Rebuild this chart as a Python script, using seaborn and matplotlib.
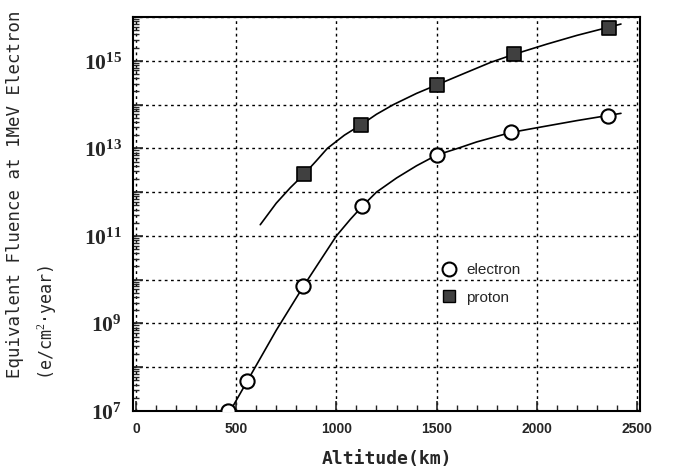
import numpy as np
import pandas as pd
import seaborn as sns
import matplotlib.pyplot as plt
from matplotlib.lines import Line2D
from matplotlib.ticker import LogLocator, FixedLocator, MultipleLocator, NullFormatter, FuncFormatter

# measured points
electron_alt = [460, 555, 835, 1130, 1500, 1870, 2355]
electron_flu = [1.0e7, 4.8e7, 7.0e9, 4.8e11, 7.0e12, 2.3e13, 5.6e13]
proton_alt = [840, 1125, 1500, 1885, 2360]
proton_flu = [2.6e12, 3.5e13, 2.8e14, 1.4e15, 5.6e15]

# fitted curves
e_curve_alt = [470, 555, 700, 835, 900, 1000, 1070, 1130, 1200, 1300, 1400, 1500,
               1600, 1700, 1870, 2000, 2200, 2420]
e_curve_flu = [1.0e7, 4.8e7, 7.0e8, 7.0e9, 2.0e10, 1.0e11, 2.4e11, 4.8e11, 1.0e12, 2.1e12, 4.0e12, 7.0e12,
               9.8e12, 1.4e13, 2.3e13, 2.95e13, 4.3e13, 6.3e13]
p_curve_alt = [620, 700, 770, 840, 900, 955, 1040, 1125, 1200, 1285, 1400, 1500,
               1640, 1770, 1885, 2050, 2200, 2420]
p_curve_flu = [1.8e11, 5.6e11, 1.26e12, 2.6e12, 5.2e12, 1.0e13, 2.0e13, 3.5e13, 6.0e13, 1.0e14, 1.8e14, 2.8e14,
               5.2e14, 9.2e14, 1.4e15, 2.4e15, 3.8e15, 6.9e15]

sns.set_style('ticks')
plt.rcParams['mathtext.fontset'] = 'custom'
plt.rcParams['mathtext.rm'] = 'Liberation Serif'
plt.rcParams['mathtext.bf'] = 'Liberation Serif:bold'

fig = plt.figure(figsize=(6.74, 4.74), dpi=100)
ax = fig.add_axes([133 / 674, 63 / 474, 507 / 674, 394 / 474])

e_curve = pd.DataFrame({'alt': e_curve_alt, 'flu': e_curve_flu})
p_curve = pd.DataFrame({'alt': p_curve_alt, 'flu': p_curve_flu})
sns.lineplot(data=e_curve, x='alt', y='flu', ax=ax, color='black', lw=1.2, sort=False)
sns.lineplot(data=p_curve, x='alt', y='flu', ax=ax, color='black', lw=1.2, sort=False)

sns.scatterplot(x=electron_alt, y=electron_flu, ax=ax, marker='o', s=105,
                facecolor='white', edgecolor='black', linewidth=1.5, zorder=5)
sns.scatterplot(x=proton_alt, y=proton_flu, ax=ax, marker='s', s=95,
                facecolor='0.25', edgecolor='black', linewidth=1.2, zorder=5)

ax.set_yscale('log')
ax.set_xlim(-15, 2515)
ax.set_ylim(1e7, 1e16)

ax.xaxis.set_major_locator(FixedLocator([0, 500, 1000, 1500, 2000, 2500]))
ax.xaxis.set_minor_locator(MultipleLocator(100))
ax.yaxis.set_major_locator(FixedLocator([10.0 ** k for k in range(7, 17)]))
ax.yaxis.set_minor_locator(LogLocator(base=10, subs=np.arange(2, 10), numticks=20))
ax.yaxis.set_minor_formatter(NullFormatter())


def ylab(v, pos):
    k = int(round(np.log10(v)))
    if k % 2 == 1 and k < 16:
        return r'$\mathbf{10^{%d}}$' % k
    return ''


ax.yaxis.set_major_formatter(FuncFormatter(ylab))
ax.tick_params(axis='both', which='both', direction='in', top=False, right=False)
ax.tick_params(axis='both', which='major', length=7, width=1.2)
ax.tick_params(axis='both', which='minor', length=4, width=1)
ax.tick_params(axis='y', which='major', labelsize=15.5, pad=8)
ax.tick_params(axis='x', which='major', labelsize=10, pad=8)
for lab in ax.get_xticklabels():
    lab.set_fontfamily('Liberation Sans')
    lab.set_fontweight('bold')

ax.grid(True, which='major', color='black', linestyle=(0, (2, 2.5)), linewidth=1)
for sp in ax.spines.values():
    sp.set_linewidth(1.5)
    sp.set_color('black')

ax.set_xlabel('Altitude(km)', fontfamily='DejaVu Sans Mono', fontweight='bold',
              fontsize=13, labelpad=10)
ax.set_ylabel('')
fig.text(6 / 674, 1 - 378 / 474, 'Equivalent Fluence at 1MeV Electron',
         rotation=90, ha='left', va='bottom',
         fontfamily='DejaVu Sans Mono', fontsize=12.5)
fig.text(36 / 674, 1 - 380 / 474, '(e/cm$^{2}$·year)',
         rotation=90, ha='left', va='bottom',
         fontfamily='DejaVu Sans Mono', fontsize=12)

handles = [
    Line2D([], [], linestyle='none', marker='o', markersize=10, markerfacecolor='white',
           markeredgecolor='black', markeredgewidth=1.5),
    Line2D([], [], linestyle='none', marker='s', markersize=8, markerfacecolor='0.25',
           markeredgecolor='black'),
]
ax.legend(handles, ['electron', 'proton'], frameon=False, loc='center left',
          bbox_to_anchor=(0.582, 0.323), handlelength=1.0, handletextpad=0.6,
          labelspacing=0.9, prop={'family': 'Liberation Sans', 'size': 11})

fig.savefig('out.png', dpi=100)
